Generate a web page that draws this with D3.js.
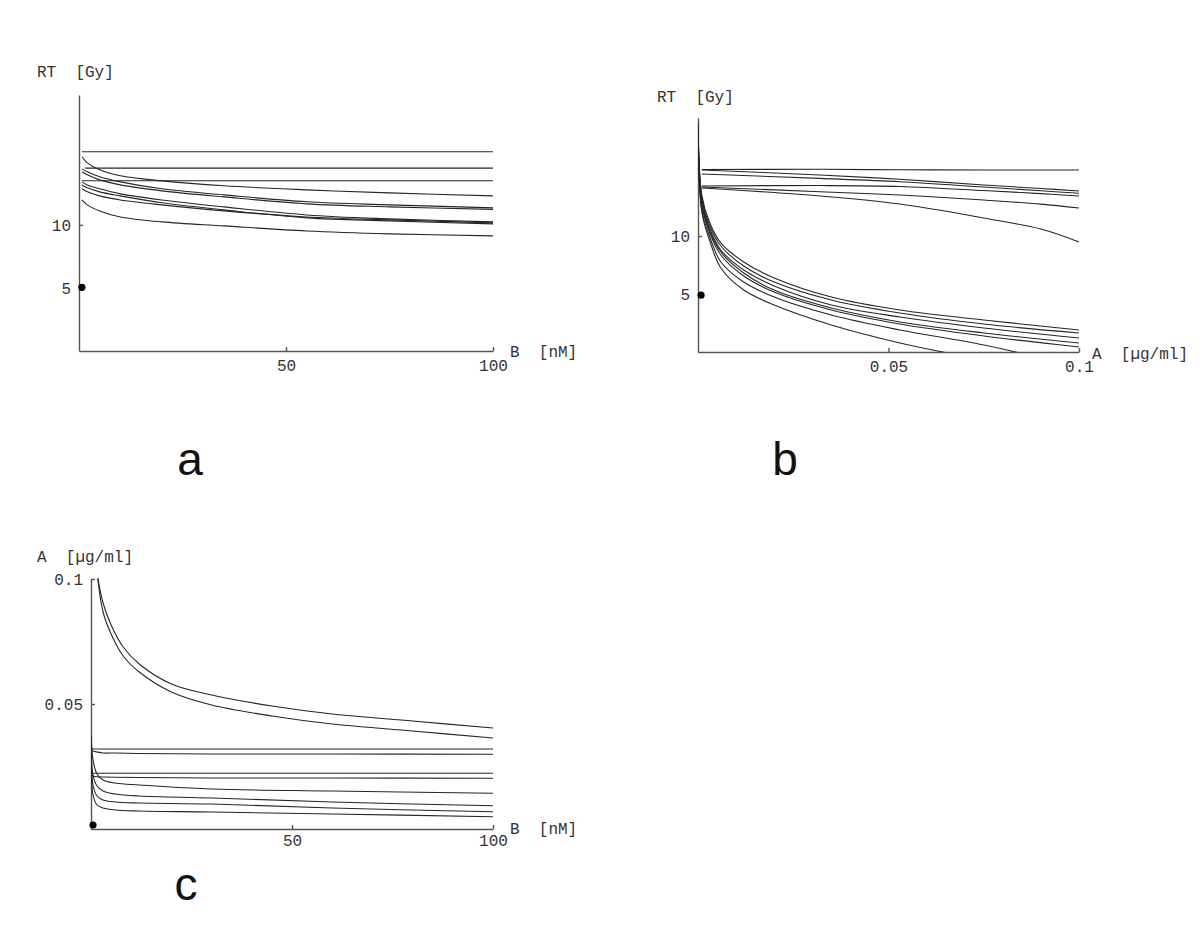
<!DOCTYPE html>
<html>
<head>
<meta charset="utf-8">
<script src="https://cdn.jsdelivr.net/npm/d3@7"></script>
<style>
body { margin: 0; background: #fff; }
svg { display: block; }
.axis path, .axis line { stroke: #555; stroke-width: 1.4; }
.axis text, .lbl { font-family: "Liberation Mono", "DejaVu Sans Mono", monospace; font-size: 16px; fill: #333; white-space: pre; }
.panel { font-family: "Liberation Sans", Arial, sans-serif; font-size: 46px; fill: #111; }
.curve { fill: none; stroke: #262626; stroke-width: 1.1; }
</style>
</head>
<body>
<svg id="chart" width="1200" height="947"></svg>
<script>
// ---- panel a : RT [Gy] vs B [nM] ----
var aB = [0.7, 2, 5, 10, 20, 35, 55, 75, 100];
var aFlat = [15.8, 14.5, 13.5];
var aFlatStart = [0.7, 1.5, 0.7];
var aCurves = [
  [15.40, 14.92, 14.37, 13.89, 13.49, 13.10, 12.78, 12.54, 12.30],
  [14.44, 14.21, 13.81, 13.41, 12.86, 12.38, 11.83, 11.59, 11.35],
  [14.21, 13.97, 13.57, 13.17, 12.70, 12.22, 11.67, 11.43, 11.23],
  [13.41, 13.17, 12.86, 12.46, 11.98, 11.43, 10.79, 10.48, 10.24],
  [13.17, 12.94, 12.62, 12.30, 11.75, 11.19, 10.56, 10.32, 10.08],
  [12.86, 12.62, 12.30, 11.98, 11.59, 11.11, 10.63, 10.40, 10.16],
  [11.98, 11.59, 11.11, 10.63, 10.24, 9.92, 9.52, 9.29, 9.13]
];
var aXTicks = [50, 100];
var aYTicks = [5, 10];

// ---- panel b : RT [Gy] vs A [ug/ml] ----
var bUpperA = [0.001, 0.032, 0.053, 0.075, 0.09, 0.1];
var bUpper = [
  [15.73, 15.75, 15.71, 15.69, 15.69, 15.69],
  [15.69, 15.26, 14.89, 14.40, 14.10, 13.88],
  [15.34, 14.97, 14.68, 14.22, 13.90, 13.68],
  [14.31, 14.35, 14.27, 13.92, 13.65, 13.45],
  [14.22, 13.82, 13.53, 13.10, 12.75, 12.41],
  [14.14, 13.45, 12.76, 11.55, 10.60, 9.48]
];
var bLowerA = [0, 0.001, 0.003, 0.006, 0.012, 0.02, 0.035, 0.053, 0.075, 0.1];
var bLower = [
  [19.74, 13.53, 11.21, 9.40, 7.76, 6.38, 4.74, 3.62, 2.76, 1.90],
  [19.74, 13.28, 10.95, 9.14, 7.41, 6.03, 4.48, 3.36, 2.41, 1.64],
  [19.74, 13.10, 10.69, 8.79, 7.07, 5.69, 4.05, 3.02, 2.07, 1.21],
  [19.74, 12.84, 10.52, 8.62, 6.81, 5.34, 3.79, 2.59, 1.64, 0.78],
  [19.74, 12.67, 10.34, 8.36, 6.55, 5.17, 3.62, 2.41, 1.38, 0.43],
  [19.74, 12.24, 10.00, 7.76, 6.03, 4.74, 3.19, 1.90, 0.60, -1.29],
  [19.74, 12.07, 9.66, 7.24, 5.34, 4.05, 2.33, 0.78, -0.69, -2.24]
];
var bXTicks = [0.05, 0.1];
var bXTickLabels = ["0.05", "0.1"];
var bYTicks = [5, 10];

// ---- panel c : A [ug/ml] vs B [nM] ----
var cHypB = [1.7, 3, 5, 8, 12, 20, 30, 45, 60, 80, 100];
var cHyp = [
  [0.1004, 0.0904, 0.0816, 0.0728, 0.0660, 0.0580, 0.0536, 0.0492, 0.0460, 0.0432, 0.0404],
  [0.1000, 0.0868, 0.0780, 0.0692, 0.0628, 0.0548, 0.0496, 0.0452, 0.0420, 0.0392, 0.0364]
];
var cLowB = [0.05, 0.5, 1.5, 3, 6, 12, 30, 60, 100];
var cLow = [
  [0.0320, 0.0320, 0.0320, 0.0320, 0.0320, 0.0320, 0.0320, 0.0320, 0.0320],
  [0.0316, 0.0312, 0.0308, 0.0304, 0.0304, 0.0302, 0.0300, 0.0300, 0.0299],
  [0.0223, 0.0223, 0.0223, 0.0223, 0.0223, 0.0223, 0.0223, 0.0223, 0.0223],
  [0.0216, 0.0212, 0.0209, 0.0208, 0.0207, 0.0206, 0.0204, 0.0204, 0.0203],
  [0.0372, 0.0276, 0.0220, 0.0196, 0.0184, 0.0176, 0.0160, 0.0152, 0.0143],
  [0.0336, 0.0216, 0.0172, 0.0152, 0.0140, 0.0132, 0.0124, 0.0108, 0.0093],
  [0.0308, 0.0176, 0.0132, 0.0116, 0.0108, 0.0104, 0.0100, 0.0084, 0.0069],
  [0.0276, 0.0136, 0.0096, 0.0084, 0.0076, 0.0072, 0.0068, 0.0060, 0.0049]
];
var cXTicks = [50, 100];
var cYTicks = [0.05, 0.1];
var cYTickLabels = ["0.05", "0.1"];

var svg = d3.select("#chart");

function drawPanel(p) {
  var g = svg.append("g");
  var x = d3.scaleLinear().domain(p.xDomain).range(p.xRange);
  var y = d3.scaleLinear().domain(p.yDomain).range(p.yRange);

  svg.append("clipPath").attr("id", "clip-" + p.id)
    .append("rect")
      .attr("x", p.xRange[0])
      .attr("y", p.yRange[1] - 3)
      .attr("width", p.xRange[1] - p.xRange[0] + 1)
      .attr("height", p.yRange[0] - p.yRange[1] + 3);

  g.append("g")
      .attr("class", "axis")
      .attr("transform", "translate(0," + y(0) + ")")
      .call(d3.axisBottom(x).tickValues(p.xTicks)
        .tickFormat(function (d, i) { return p.xTickLabels ? p.xTickLabels[i] : d; })
        .tickSizeInner(-4).tickSizeOuter(0).tickPadding(p.xPad));

  g.append("g")
      .attr("class", "axis")
      .attr("transform", "translate(" + x(0) + ",0)")
      .call(d3.axisLeft(y).tickValues(p.yTicks)
        .tickFormat(function (d, i) { return p.yTickLabels ? p.yTickLabels[i] : d; })
        .tickSizeInner(-4).tickSizeOuter(0).tickPadding(8));

  var line = d3.line()
      .x(function (d) { return x(d[0]); })
      .y(function (d) { return y(d[1]); })
      .curve(d3.curveCatmullRom.alpha(0.5));

  var lines = g.append("g").attr("clip-path", "url(#clip-" + p.id + ")");
  p.series.forEach(function (s) {
    s.values.forEach(function (vals) {
      lines.append("path")
          .attr("class", "curve")
          .attr("d", line(vals.map(function (v, i) { return [s.xs[i], v]; })));
    });
  });

  g.append("circle")
      .attr("cx", x(p.dot[0]))
      .attr("cy", y(p.dot[1]))
      .attr("r", 3.6)
      .attr("fill", "#000");

  g.append("text").attr("class", "lbl")
      .attr("x", p.yLabelPos[0]).attr("y", p.yLabelPos[1])
      .text(p.yLabel);
  g.append("text").attr("class", "lbl")
      .attr("x", p.xLabelPos[0]).attr("y", p.xLabelPos[1])
      .text(p.xLabel);

  g.append("text").attr("class", "panel")
      .attr("x", p.letterPos[0]).attr("y", p.letterPos[1])
      .attr("text-anchor", "middle")
      .text(p.letter);
}

drawPanel({
  id: "a",
  xDomain: [0, 100], xRange: [79, 493],
  yDomain: [0, 20.3], yRange: [351, 95],
  xTicks: aXTicks, yTicks: aYTicks, xPad: 9,
  series: [
    { xs: [aFlatStart[0], 100], values: [[aFlat[0], aFlat[0]]] },
    { xs: [aFlatStart[1], 100], values: [[aFlat[1], aFlat[1]]] },
    { xs: [aFlatStart[2], 100], values: [[aFlat[2], aFlat[2]]] },
    { xs: aB, values: aCurves }
  ],
  dot: [0.7, 5.05],
  yLabel: "RT  [Gy]", yLabelPos: [37, 77],
  xLabel: "B  [nM]", xLabelPos: [510, 357],
  letter: "a", letterPos: [190, 475]
});

drawPanel({
  id: "b",
  xDomain: [0, 0.1], xRange: [698, 1079],
  yDomain: [0, 20.2], yRange: [352, 117.7],
  xTicks: bXTicks, xTickLabels: bXTickLabels, yTicks: bYTicks, xPad: 9,
  series: [
    { xs: bUpperA, values: bUpper },
    { xs: bLowerA, values: bLower }
  ],
  dot: [0.0008, 4.9],
  yLabel: "RT  [Gy]", yLabelPos: [657, 102],
  xLabel: "A  [\u00b5g/ml]", xLabelPos: [1092, 359],
  letter: "b", letterPos: [785, 475]
});

drawPanel({
  id: "c",
  xDomain: [0, 100], xRange: [91, 493],
  yDomain: [0, 0.1], yRange: [829, 579],
  xTicks: cXTicks, yTicks: cYTicks, yTickLabels: cYTickLabels, xPad: 6,
  series: [
    { xs: cHypB, values: cHyp },
    { xs: cLowB, values: cLow }
  ],
  dot: [0.5, 0.0016],
  yLabel: "A  [\u00b5g/ml]", yLabelPos: [37, 562],
  xLabel: "B  [nM]", xLabelPos: [510, 834],
  letter: "c", letterPos: [186, 900]
});
</script>
</body>
</html>
